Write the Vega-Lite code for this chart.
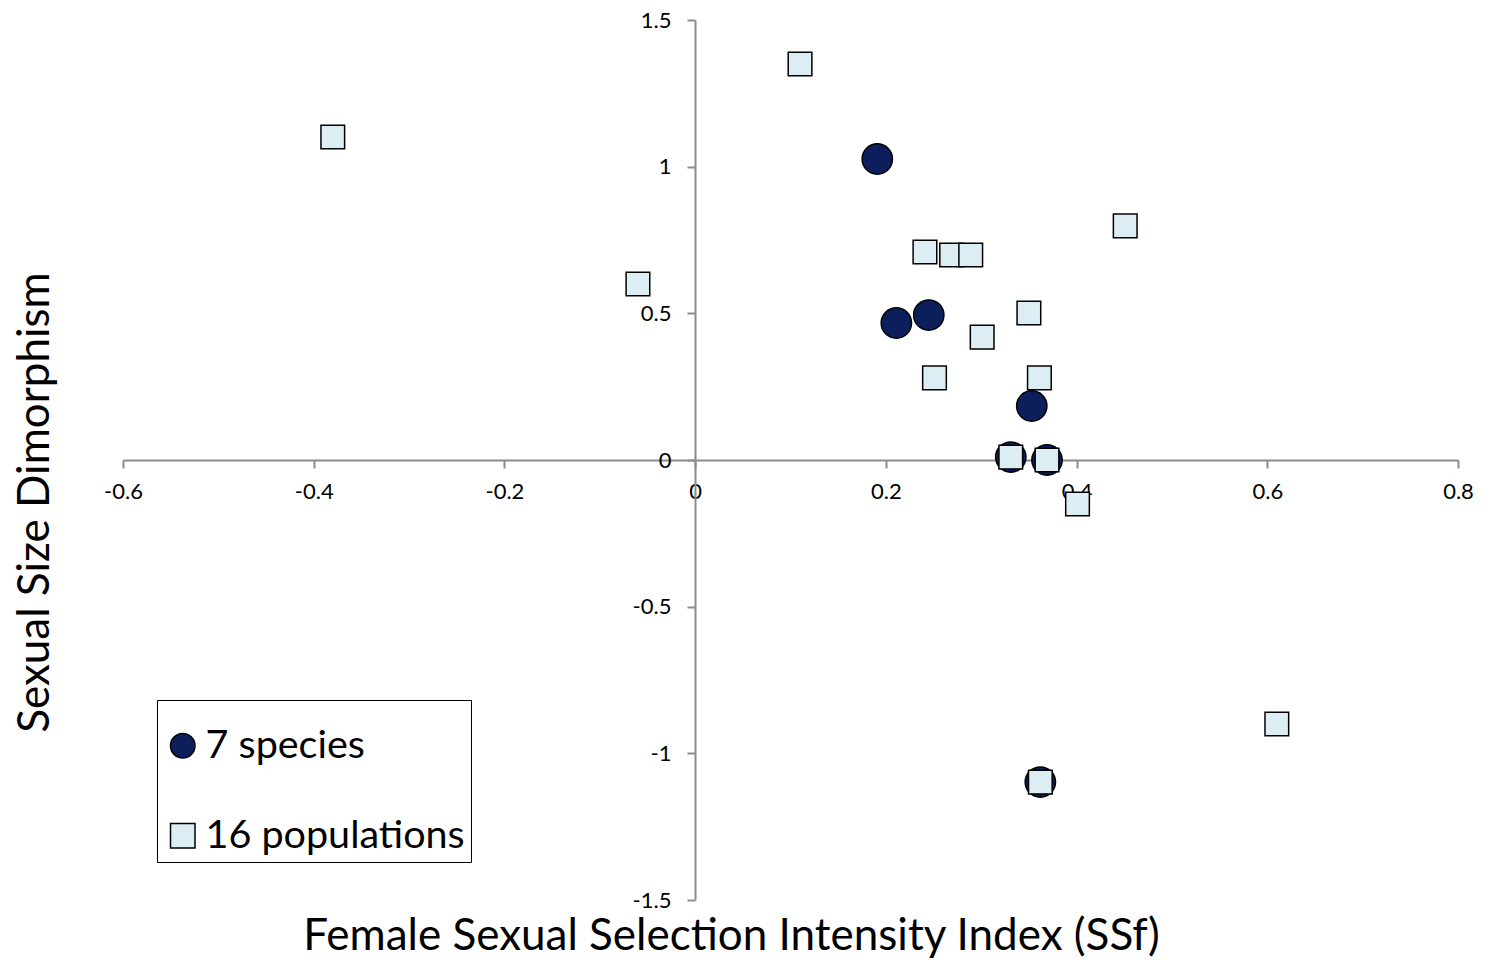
{
  "$schema": "https://vega.github.io/schema/vega-lite/v6.json",
  "width": 1335,
  "height": 880,
  "autosize": {"type": "none"},
  "padding": {"left": 123, "top": 20, "right": 32, "bottom": 64},
  "background": "white",
  "config": {
    "view": {"stroke": null},
    "font": "Lato",
    "axis": {
      "domainColor": "#8c8c8c",
      "domainWidth": 2,
      "tickColor": "#8c8c8c",
      "tickWidth": 2,
      "tickSize": 8,
      "labelFontSize": 22,
      "labelColor": "black",
      "labelFont": "Lato",
      "grid": false,
      "labelFlush": false,
      "labelOverlap": false,
      "titleColor": "black",
      "titleFontWeight": "normal",
      "titleFont": "Lato"
    },
    "legend": {
      "orient": "none",
      "legendX": 34,
      "legendY": 680,
      "labelFontSize": 39.5,
      "labelFont": "Lato",
      "labelColor": "black",
      "labelLimit": 500,
      "padding": 6,
      "strokeColor": "black",
      "fillColor": "white",
      "symbolSize": 600,
      "symbolStrokeColor": "black",
      "symbolStrokeWidth": 1.5,
      "rowPadding": 49,
      "labelOffset": 3,
      "titleFontSize": 20,
      "titlePadding": 0
    }
  },
  "data": {
    "values": [
      {"x": 0.191, "y": 1.026, "type": "7 species"},
      {"x": 0.211, "y": 0.467, "type": "7 species"},
      {"x": 0.245, "y": 0.494, "type": "7 species"},
      {"x": 0.353, "y": 0.184, "type": "7 species"},
      {"x": 0.331, "y": 0.01, "type": "7 species"},
      {"x": 0.369, "y": 0.0, "type": "7 species"},
      {"x": 0.362, "y": -1.098, "type": "7 species"},
      {"x": -0.38, "y": 1.101, "type": "16 populations"},
      {"x": 0.11, "y": 1.35, "type": "16 populations"},
      {"x": -0.06, "y": 0.6, "type": "16 populations"},
      {"x": 0.241, "y": 0.709, "type": "16 populations"},
      {"x": 0.269, "y": 0.699, "type": "16 populations"},
      {"x": 0.289, "y": 0.699, "type": "16 populations"},
      {"x": 0.451, "y": 0.798, "type": "16 populations"},
      {"x": 0.35, "y": 0.501, "type": "16 populations"},
      {"x": 0.301, "y": 0.419, "type": "16 populations"},
      {"x": 0.251, "y": 0.28, "type": "16 populations"},
      {"x": 0.361, "y": 0.28, "type": "16 populations"},
      {"x": 0.331, "y": 0.01, "type": "16 populations"},
      {"x": 0.369, "y": 0.0, "type": "16 populations"},
      {"x": 0.401, "y": -0.15, "type": "16 populations"},
      {"x": 0.61, "y": -0.9, "type": "16 populations"},
      {"x": 0.362, "y": -1.098, "type": "16 populations"}
    ]
  },
  "encoding": {
    "x": {
      "field": "x",
      "type": "quantitative",
      "scale": {"domain": [-0.6, 0.8], "nice": false, "zero": false},
      "axis": {
        "offset": -440,
        "values": [-0.6, -0.4, -0.2, 0, 0.2, 0.4, 0.6, 0.8],
        "labelExpr": "toString(datum.value)",
        "labelPadding": 13,
        "title": "Female Sexual Selection Intensity Index (SSf)",
        "titleFontSize": 44,
        "titleX": 608,
        "titleY": 489,
        "titleAlign": "center",
        "titleBaseline": "alphabetic"
      }
    },
    "y": {
      "field": "y",
      "type": "quantitative",
      "scale": {"domain": [-1.5, 1.5], "nice": false, "zero": false},
      "axis": {
        "offset": -572,
        "values": [-1.5, -1, -0.5, 0, 0.5, 1, 1.5],
        "labelExpr": "toString(datum.value)",
        "labelPadding": 16,
        "title": "Sexual Size Dimorphism",
        "titleFontSize": 44,
        "titleX": -638,
        "titleY": 482,
        "titleAngle": 270,
        "titleAlign": "center",
        "titleBaseline": "bottom"
      }
    },
    "stroke": {
      "field": "type",
      "type": "nominal",
      "scale": {"domain": ["7 species", "16 populations"], "range": ["black", "black"]},
      "legend": {"title": " "}
    },
    "fill": {
      "field": "type",
      "type": "nominal",
      "scale": {"domain": ["7 species", "16 populations"], "range": ["#0c1f5c", "#dcedf4"]},
      "legend": {"title": " "}
    },
    "shape": {
      "field": "type",
      "type": "nominal",
      "scale": {"domain": ["7 species", "16 populations"], "range": ["circle", "square"]},
      "legend": {"title": " "}
    }
  },
  "layer": [
    {
      "transform": [{"filter": "datum.type == '7 species'"}],
      "mark": {"type": "point", "filled": true, "strokeWidth": 1.5, "opacity": 1, "fillOpacity": 1, "strokeOpacity": 1, "size": 920}
    },
    {
      "transform": [{"filter": "datum.type == '16 populations'"}],
      "mark": {"type": "point", "filled": true, "strokeWidth": 1.5, "opacity": 1, "fillOpacity": 1, "strokeOpacity": 1, "size": 560}
    }
  ]
}
